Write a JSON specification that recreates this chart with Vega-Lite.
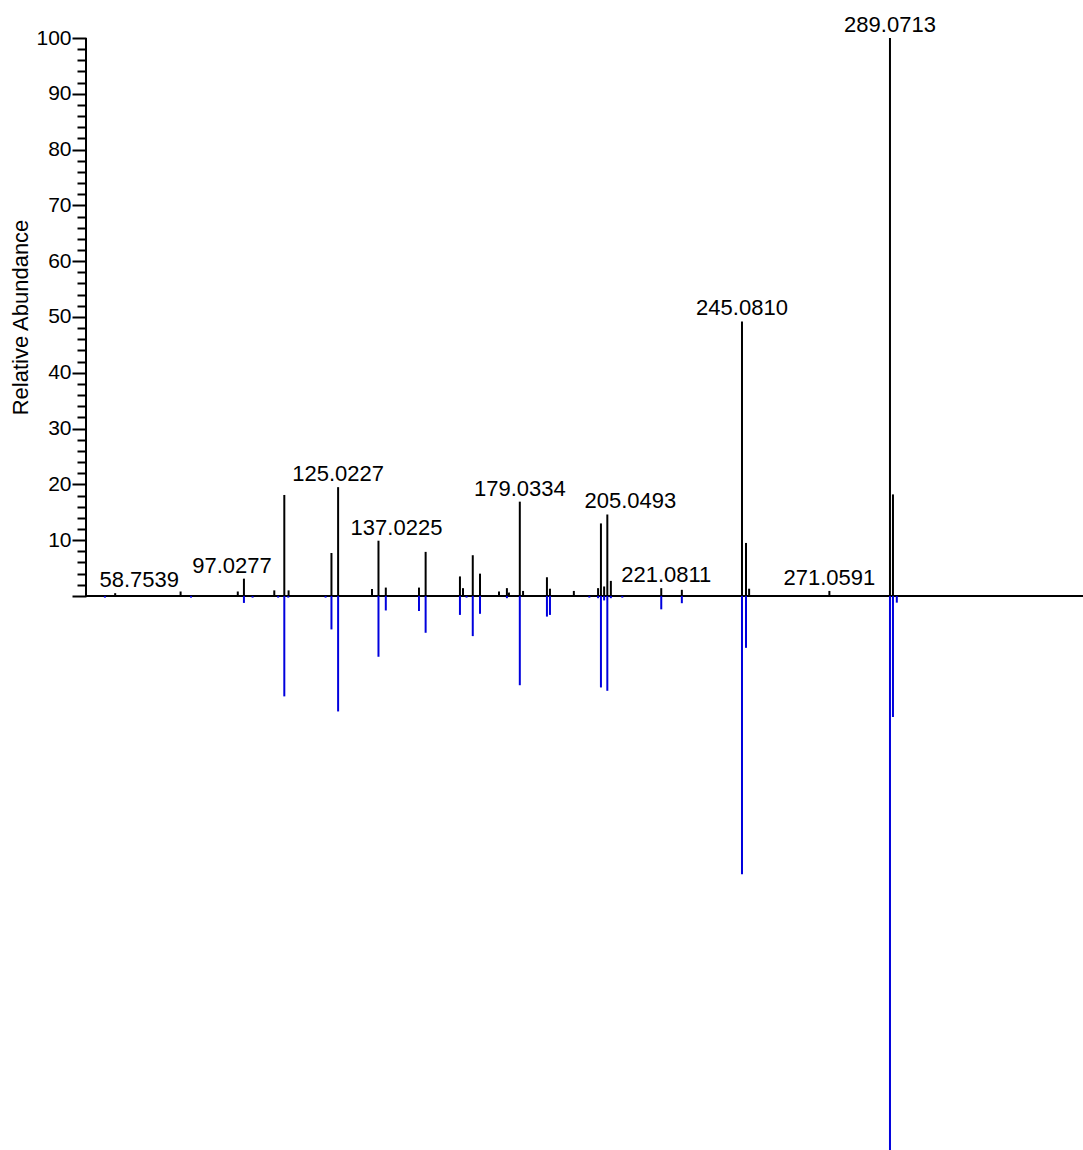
{
  "$schema": "https://vega.github.io/schema/vega-lite/v6.json",
  "autosize": {"type": "none"},
  "width": 997,
  "height": 1112,
  "padding": {"left": 86, "top": 38, "right": 0, "bottom": 0},
  "background": "white",
  "config": {
    "view": {"stroke": null},
    "font": "Liberation Sans"
  },
  "data": {
    "values": [
      {"mz": 58.7539, "ab": 0.5, "spectrum": "sample", "label": "58.7539"},
      {"mz": 78.2, "ab": 0.8, "spectrum": "sample"},
      {"mz": 95.2, "ab": 0.8, "spectrum": "sample"},
      {"mz": 97.0277, "ab": 3.1, "spectrum": "sample", "label": "97.0277"},
      {"mz": 106.05, "ab": 1.0, "spectrum": "sample"},
      {"mz": 109.0284, "ab": 18.1, "spectrum": "sample"},
      {"mz": 110.3, "ab": 1.0, "spectrum": "sample"},
      {"mz": 123.0441, "ab": 7.7, "spectrum": "sample"},
      {"mz": 125.0227, "ab": 19.5, "spectrum": "sample", "label": "125.0227"},
      {"mz": 135.09, "ab": 1.25, "spectrum": "sample"},
      {"mz": 137.0225, "ab": 9.9, "spectrum": "sample", "label": "137.0225"},
      {"mz": 139.2, "ab": 1.5, "spectrum": "sample"},
      {"mz": 149.06, "ab": 1.5, "spectrum": "sample"},
      {"mz": 151.039, "ab": 7.9, "spectrum": "sample"},
      {"mz": 161.24, "ab": 3.5, "spectrum": "sample"},
      {"mz": 162.14, "ab": 1.4, "spectrum": "sample"},
      {"mz": 165.05, "ab": 7.3, "spectrum": "sample"},
      {"mz": 167.2, "ab": 4.0, "spectrum": "sample"},
      {"mz": 172.85, "ab": 0.8, "spectrum": "sample"},
      {"mz": 175.2, "ab": 1.4, "spectrum": "sample"},
      {"mz": 175.8, "ab": 0.6, "spectrum": "sample"},
      {"mz": 179.0334, "ab": 16.9, "spectrum": "sample", "label": "179.0334"},
      {"mz": 180.0, "ab": 0.9, "spectrum": "sample"},
      {"mz": 187.1, "ab": 3.35, "spectrum": "sample"},
      {"mz": 188.0, "ab": 1.3, "spectrum": "sample"},
      {"mz": 195.1, "ab": 0.9, "spectrum": "sample"},
      {"mz": 202.3, "ab": 1.4, "spectrum": "sample"},
      {"mz": 203.15, "ab": 13.0, "spectrum": "sample"},
      {"mz": 204.1, "ab": 1.7, "spectrum": "sample"},
      {"mz": 205.0493, "ab": 14.6, "spectrum": "sample", "label": "205.0493"},
      {"mz": 206.1, "ab": 2.7, "spectrum": "sample"},
      {"mz": 221.0811, "ab": 1.4, "spectrum": "sample", "label": "221.0811"},
      {"mz": 227.2, "ab": 1.1, "spectrum": "sample"},
      {"mz": 245.081, "ab": 49.2, "spectrum": "sample", "label": "245.0810"},
      {"mz": 246.27, "ab": 9.5, "spectrum": "sample"},
      {"mz": 247.2, "ab": 1.3, "spectrum": "sample"},
      {"mz": 271.0591, "ab": 0.9, "spectrum": "sample", "label": "271.0591"},
      {"mz": 289.0713, "ab": 100, "spectrum": "sample", "label": "289.0713"},
      {"mz": 289.96, "ab": 18.2, "spectrum": "sample"},
      {"mz": 55.7, "ab": -0.3, "spectrum": "reference"},
      {"mz": 81.3, "ab": -0.3, "spectrum": "reference"},
      {"mz": 97.0277, "ab": -1.25, "spectrum": "reference"},
      {"mz": 99.6, "ab": -0.3, "spectrum": "reference"},
      {"mz": 107.2, "ab": -0.3, "spectrum": "reference"},
      {"mz": 109.0284, "ab": -18.0, "spectrum": "reference"},
      {"mz": 110.2, "ab": -0.3, "spectrum": "reference"},
      {"mz": 121.3, "ab": -0.3, "spectrum": "reference"},
      {"mz": 123.0441, "ab": -6.0, "spectrum": "reference"},
      {"mz": 125.0227, "ab": -20.7, "spectrum": "reference"},
      {"mz": 137.0225, "ab": -10.9, "spectrum": "reference"},
      {"mz": 139.2, "ab": -2.6, "spectrum": "reference"},
      {"mz": 149.06, "ab": -2.7, "spectrum": "reference"},
      {"mz": 151.039, "ab": -6.6, "spectrum": "reference"},
      {"mz": 161.24, "ab": -3.4, "spectrum": "reference"},
      {"mz": 163.2, "ab": -0.3, "spectrum": "reference"},
      {"mz": 165.05, "ab": -7.2, "spectrum": "reference"},
      {"mz": 167.2, "ab": -3.2, "spectrum": "reference"},
      {"mz": 175.2, "ab": -0.4, "spectrum": "reference"},
      {"mz": 179.0334, "ab": -16.0, "spectrum": "reference"},
      {"mz": 187.1, "ab": -3.7, "spectrum": "reference"},
      {"mz": 188.0, "ab": -3.4, "spectrum": "reference"},
      {"mz": 199.7, "ab": -0.3, "spectrum": "reference"},
      {"mz": 202.3, "ab": -0.4, "spectrum": "reference"},
      {"mz": 203.15, "ab": -16.4, "spectrum": "reference"},
      {"mz": 204.1, "ab": -0.8, "spectrum": "reference"},
      {"mz": 205.0493, "ab": -17.0, "spectrum": "reference"},
      {"mz": 206.1, "ab": -0.4, "spectrum": "reference"},
      {"mz": 209.5, "ab": -0.3, "spectrum": "reference"},
      {"mz": 221.0811, "ab": -2.4, "spectrum": "reference"},
      {"mz": 227.2, "ab": -1.3, "spectrum": "reference"},
      {"mz": 245.081, "ab": -49.9, "spectrum": "reference"},
      {"mz": 246.27, "ab": -9.3, "spectrum": "reference"},
      {"mz": 289.0713, "ab": -99.3, "spectrum": "reference"},
      {"mz": 289.96, "ab": -21.7, "spectrum": "reference"},
      {"mz": 291.1, "ab": -1.2, "spectrum": "reference"}
    ]
  },
  "encoding": {
    "x": {"field": "mz", "type": "quantitative", "scale": {"domain": [50.08, 346.45], "nice": false, "zero": false}, "axis": null},
    "y": {
      "field": "ab", "type": "quantitative",
      "scale": {"domain": [-99.3, 100], "nice": false, "zero": false},
      "axis": {
        "title": "Relative Abundance",
        "titleFont": "Liberation Sans",
        "titleFontSize": 22,
        "titleFontWeight": "normal",
        "titleColor": "black",
        "titleAngle": -90,
        "titleAlign": "center",
        "titleBaseline": "middle",
        "titleX": -66,
        "titleY": 279,
        "domain": false,
        "grid": false,
        "values": [0, 2, 4, 6, 8, 10, 12, 14, 16, 18, 20, 22, 24, 26, 28, 30, 32, 34, 36, 38, 40, 42, 44, 46, 48, 50, 52, 54, 56, 58, 60, 62, 64, 66, 68, 70, 72, 74, 76, 78, 80, 82, 84, 86, 88, 90, 92, 94, 96, 98, 100],
        "labelExpr": "datum.value > 0 && datum.value % 10 === 0 ? datum.label : ''",
        "labelFont": "Liberation Sans",
        "labelFontSize": 21,
        "labelColor": "black",
        "labelPadding": 1,
        "labelOverlap": false,
        "labelFlush": false,
        "tickColor": "black",
        "tickWidth": 2,
        "tickSize": {"expr": "datum.value % 10 === 0 ? 14 : 9"}
      }
    }
  },
  "layer": [
    {
      "mark": {"type": "rule", "color": "black", "strokeWidth": 2},
      "encoding": {"x": {"datum": 50.08}, "x2": {"datum": 346.45}, "y": {"datum": 0}}
    },
    {
      "mark": {"type": "rule", "color": "black", "strokeWidth": 2},
      "encoding": {
        "x": {"datum": 50.08},
        "y": {"datum": 0},
        "y2": {"datum": 100}
      }
    },
    {
      "mark": {"type": "rule", "strokeWidth": 2},
      "encoding": {
        "y2": {"datum": 0},
        "color": {
          "field": "spectrum", "type": "nominal",
          "scale": {"domain": ["sample", "reference"], "range": ["black", "#0000dd"]},
          "legend": null
        }
      }
    },
    {
      "transform": [{"filter": "datum.label == '125.0227' || datum.label == '179.0334' || datum.label == '245.0810' || datum.label == '271.0591' || datum.label == '289.0713'"}],
      "mark": {"type": "text", "fontSize": 22, "font": "Liberation Sans", "color": "black", "align": "center", "baseline": "alphabetic", "dy": -6},
      "encoding": {"text": {"field": "label"}}
    },
    {
      "transform": [{"filter": "datum.label == '58.7539'"}],
      "mark": {"type": "text", "fontSize": 22, "font": "Liberation Sans", "color": "black", "align": "center", "baseline": "alphabetic", "dy": -6, "dx": 24},
      "encoding": {"text": {"field": "label"}}
    },
    {
      "transform": [{"filter": "datum.label == '97.0277'"}],
      "mark": {"type": "text", "fontSize": 22, "font": "Liberation Sans", "color": "black", "align": "center", "baseline": "alphabetic", "dy": -6, "dx": -12},
      "encoding": {"text": {"field": "label"}}
    },
    {
      "transform": [{"filter": "datum.label == '137.0225'"}],
      "mark": {"type": "text", "fontSize": 22, "font": "Liberation Sans", "color": "black", "align": "center", "baseline": "alphabetic", "dy": -6, "dx": 18},
      "encoding": {"text": {"field": "label"}}
    },
    {
      "transform": [{"filter": "datum.label == '205.0493'"}],
      "mark": {"type": "text", "fontSize": 22, "font": "Liberation Sans", "color": "black", "align": "center", "baseline": "alphabetic", "dy": -6, "dx": 23},
      "encoding": {"text": {"field": "label"}}
    },
    {
      "transform": [{"filter": "datum.label == '221.0811'"}],
      "mark": {"type": "text", "fontSize": 22, "font": "Liberation Sans", "color": "black", "align": "center", "baseline": "alphabetic", "dy": -6, "dx": 5},
      "encoding": {"text": {"field": "label"}}
    }
  ]
}
